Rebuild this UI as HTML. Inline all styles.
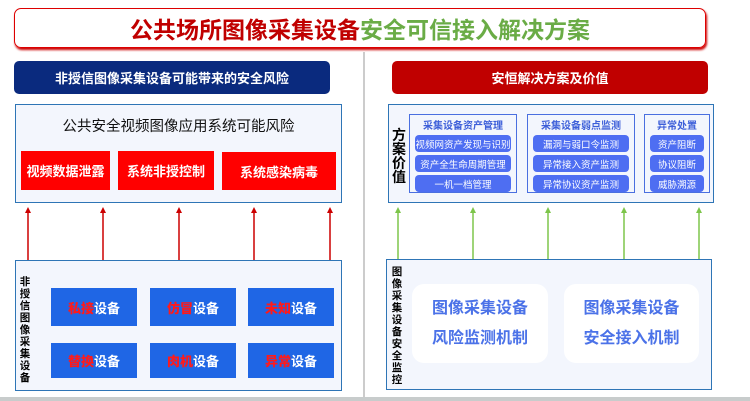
<!DOCTYPE html>
<html><head><meta charset="utf-8"><style>
*{margin:0;padding:0;box-sizing:border-box}
body{width:750px;height:401px;background:#fff;position:relative;overflow:hidden;font-family:"Liberation Sans","Noto Sans CJK SC",sans-serif}
.a{position:absolute}
.c{display:flex;align-items:center;justify-content:center;text-align:center}
.panel{background:#f3f6fd;border:1.5px solid #2e75b6}
.red{background:#ff0000;color:#fff;font-size:13px;font-weight:bold}
.blue{background:#1f66e5;color:#fff;font-size:13px;font-weight:bold}
.blue b{color:#ff1a1a}
.sub{border:1.3px solid #4a6fe0;background:#f3f6fd}
.sh{color:#3d5fd9;font-size:10px;font-weight:bold;text-align:center;margin-top:2px}
.pill{background:#4e6ef2;color:#fff;font-size:9.5px;border-radius:4px;height:17px;margin:3px 5px 0;display:flex;align-items:center;justify-content:center}
.vl{font-size:10.5px;font-weight:bold;line-height:12px;width:12px;text-align:center;color:#000}
.wb{background:#fff;border-radius:12px;color:#4b72e8;font-size:16px;font-weight:bold;line-height:30px;flex-direction:column}
</style></head><body>
<div class="a c" style="left:14px;top:8px;width:692px;height:40px;border:1.5px solid #d00;border-radius:7px;box-shadow:1px 2px 2px #c00;font-size:23px;font-weight:bold"><span style="color:#c00000">公共场所图像采集设备</span><span style="color:#6aac46">安全可信接入解决方案</span></div>
<div class="a" style="left:363px;top:52px;width:2px;height:345px;background:#ccc"></div>
<div class="a c" style="left:14px;top:61px;width:316px;height:33px;background:#0a2a7e;border-radius:5px;color:#fff;font-size:13px;font-weight:bold">非授信图像采集设备可能带来的安全风险</div>
<div class="a c" style="left:392px;top:61px;width:316px;height:33px;background:#c00000;border-radius:5px;color:#fff;font-size:13px;font-weight:bold">安恒解决方案及价值</div>

<div class="a panel" style="left:15px;top:104px;width:327px;height:99px"></div>
<div class="a c" style="left:15px;top:115px;width:327px;height:20px;font-size:14.5px;color:#111">公共安全视频图像应用系统可能风险</div>
<div class="a c red" style="left:21px;top:151px;width:89px;height:39px">视频数据泄露</div>
<div class="a c red" style="left:118px;top:151px;width:96px;height:39px">系统非授控制</div>
<div class="a c red" style="left:222px;top:152px;width:114px;height:38px">系统感染病毒</div>

<svg class="a" style="left:0;top:200px" width="750" height="62">
<g stroke="#c00" stroke-width="1.5"><line x1="28" y1="60" x2="28" y2="10" /><line x1="103" y1="60" x2="103" y2="10"/><line x1="179" y1="60" x2="179" y2="10"/><line x1="254" y1="60" x2="254" y2="10"/><line x1="330" y1="60" x2="330" y2="10"/></g>
<g fill="#c00"><path d="M25,13 L28,7 L31,13z"/><path d="M100,13 L103,7 L106,13z"/><path d="M176,13 L179,7 L182,13z"/><path d="M251,13 L254,7 L257,13z"/><path d="M327,13 L330,7 L333,13z"/></g>
<g stroke="#7dc54a" stroke-width="1.5"><line x1="398" y1="60" x2="398" y2="10"/><line x1="473" y1="60" x2="473" y2="10"/><line x1="548" y1="60" x2="548" y2="10"/><line x1="624" y1="60" x2="624" y2="10"/><line x1="699" y1="60" x2="699" y2="10"/></g>
<g fill="#7dc54a"><path d="M395,13 L398,7 L401,13z"/><path d="M470,13 L473,7 L476,13z"/><path d="M545,13 L548,7 L551,13z"/><path d="M621,13 L624,7 L627,13z"/><path d="M696,13 L699,7 L702,13z"/></g>
</svg>

<div class="a panel" style="left:15px;top:260px;width:327px;height:131px"></div>
<div class="a vl" style="left:19px;top:276px">非<br>授<br>信<br>图<br>像<br>采<br>集<br>设<br>备</div>
<div class="a c blue" style="left:51px;top:288px;width:86px;height:38px"><b>私接</b>设备</div>
<div class="a c blue" style="left:150px;top:288px;width:86px;height:38px"><b>仿冒</b>设备</div>
<div class="a c blue" style="left:248px;top:288px;width:86px;height:38px"><b>未知</b>设备</div>
<div class="a c blue" style="left:51px;top:343px;width:86px;height:35px"><b>替换</b>设备</div>
<div class="a c blue" style="left:150px;top:343px;width:86px;height:35px"><b>肉机</b>设备</div>
<div class="a c blue" style="left:248px;top:343px;width:86px;height:35px"><b>异常</b>设备</div>

<div class="a panel" style="left:388px;top:104px;width:326px;height:99px"></div>
<div class="a" style="left:391px;top:128px;width:16px;font-size:14px;font-weight:bold;line-height:14px;text-align:center">方<br>案<br>价<br>值</div>
<div class="a sub" style="left:409px;top:114px;width:108px;height:79px"><div class="sh">采集设备资产管理</div><div class="pill">视频网资产发现与识别</div><div class="pill">资产全生命周期管理</div><div class="pill">一机一档管理</div></div>
<div class="a sub" style="left:527px;top:114px;width:108px;height:79px"><div class="sh">采集设备弱点监测</div><div class="pill">漏洞与弱口令监测</div><div class="pill">异常接入资产监测</div><div class="pill">异常协议资产监测</div></div>
<div class="a sub" style="left:644px;top:114px;width:66px;height:79px"><div class="sh">异常处置</div><div class="pill">资产阻断</div><div class="pill">协议阻断</div><div class="pill">威胁溯源</div></div>

<div class="a panel" style="left:386px;top:259px;width:326px;height:131px"></div>
<div class="a vl" style="left:391px;top:266px">图<br>像<br>采<br>集<br>设<br>备<br>安<br>全<br>监<br>控</div>
<div class="a c wb" style="left:412px;top:284px;width:136px;height:79px"><div>图像采集设备</div><div>风险监测机制</div></div>
<div class="a c wb" style="left:564px;top:284px;width:135px;height:79px"><div>图像采集设备</div><div>安全接入机制</div></div>
<div class="a" style="left:0;top:397px;width:750px;height:4px;background:#c8cccc"></div>
</body></html>
